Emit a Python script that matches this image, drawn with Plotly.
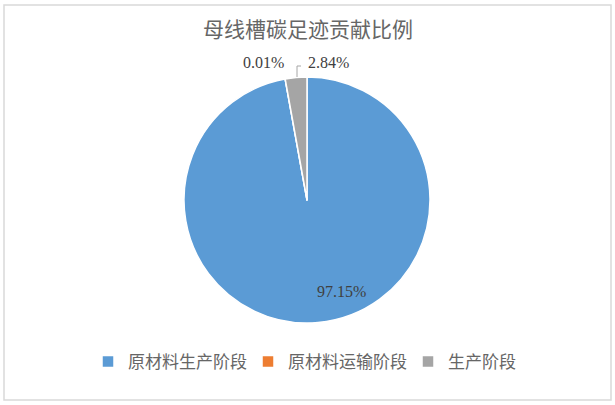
import plotly.graph_objects as go

# data
stages = ["原材料生产阶段", "原材料运输阶段", "生产阶段"]
shares = [97.15, 0.01, 2.84]
colors = ["#5B9BD5", "#ED7D31", "#A5A5A5"]
title_text = "母线槽碳足迹贡献比例"

W, H = 615, 405
cx, cy, r = 307, 200, 123  # pie centre / radius in pixels (from top-left)


def px(x):
    return x / W


def py(y):
    return 1 - y / H


fig = go.Figure()
fig.add_trace(go.Pie(
    labels=stages,
    values=shares,
    sort=False,
    direction="clockwise",
    rotation=0,
    marker=dict(colors=colors, line=dict(color="white", width=1.5)),
    textinfo="none",
    hoverinfo="label+percent",
    domain=dict(x=[px(cx - r), px(cx + r)], y=[py(cy + r), py(cy - r)]),
))

# data labels
label_font = dict(family="Liberation Serif", size=16, color="#404040")
label_pos = [(341, 291), (263, 62), (328, 62)]
for v, (lx, ly) in zip(shares, label_pos):
    fig.add_annotation(x=px(lx), y=py(ly), xref="paper", yref="paper",
                       text=f"{v:.2f}%", showarrow=False, font=label_font,
                       xanchor="center", yanchor="middle")

# leader line for the small grey slice
fig.add_shape(type="path", xref="paper", yref="paper",
              path=f"M {px(297)},{py(77)} L {px(297)},{py(66)} L {px(301)},{py(66)}",
              line=dict(color="#A6A6A6", width=1))

# chart border
fig.add_shape(type="rect", xref="paper", yref="paper",
              x0=px(4), x1=px(611), y0=py(400), y1=py(5),
              line=dict(color="#D9D9D9", width=1.5))

fig.update_layout(
    width=W, height=H,
    margin=dict(l=0, r=0, t=0, b=0, autoexpand=False),
    paper_bgcolor="white",
    plot_bgcolor="white",
    title=dict(text=title_text, x=px(308), xanchor="center", y=py(30), yanchor="middle",
               font=dict(family="Noto Sans CJK SC", size=21, color="#666666")),
    legend=dict(orientation="h", x=px(88), xanchor="left", y=py(362), yanchor="middle",
                font=dict(family="Noto Sans CJK SC", size=17, color="#666666"),
                entrywidth=115, traceorder="normal"),
    showlegend=True,
)

# drop the page's default body margin so the figure sits at the window's corner
fig.write_html("out.html", config={"displayModeBar": False},
               post_script="document.body.style.margin='0';")
